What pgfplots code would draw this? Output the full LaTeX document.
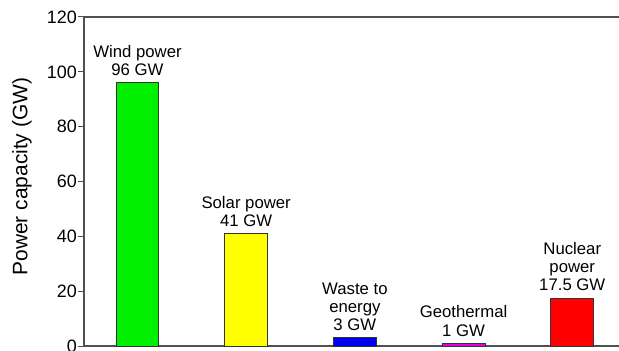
\documentclass[border=0pt]{standalone}
\usepackage{pgfplots}
\pgfplotsset{compat=1.18}
\usepackage{fontspec}
\setmainfont{Liberation Sans}

\definecolor{windc}{HTML}{00F000}
\definecolor{solarc}{HTML}{FFFF00}
\definecolor{wastec}{HTML}{0000F0}
\definecolor{geoc}{HTML}{E600E6}
\definecolor{nuclc}{HTML}{FF0000}
\definecolor{axisgray}{HTML}{505050}
\definecolor{edgegray}{HTML}{333333}

\begin{document}
\begin{tikzpicture}
\begin{axis}[
  width=535bp, height=329bp, scale only axis,
  xmin=-0.492, xmax=4.43,
  ymin=0, ymax=120,
  ytick={0,20,...,120},
  xtick=\empty,
  axis x line=box, axis y line=left,
  axis line style={-, axisgray, line width=1.3pt},
  ytick style={axisgray, line width=1pt},
  tick align=outside,
  major tick length=6bp,
  /pgf/number format/assume math mode=true,
  yticklabel style={font=\fontsize{18}{20}\selectfont, inner sep=1bp},
  ylabel={Power capacity (GW)},
  ylabel style={at={(axis description cs:-0.1346,0.515)}, anchor=north, inner sep=0pt,
    font=\fontsize{21}{24}\selectfont},
  clip=false,
  every axis plot/.append style={ybar, bar shift=0pt, bar width=0.395,
    draw=edgegray, line width=0.9pt},
  nodes near coords align={above},
  every node near coord/.append style={align=center, black,
    font=\fontsize{16.8}{18.4}\selectfont, inner sep=2bp, yshift=4.5bp},
]
\addplot[fill=windc, nodes near coords={Wind power\\\pgfmathprintnumber{\pgfplotspointmeta} GW}]
  coordinates {(0,96)};
\addplot[fill=solarc, nodes near coords={Solar power\\\pgfmathprintnumber{\pgfplotspointmeta} GW}]
  coordinates {(1,41)};
\addplot[fill=wastec, nodes near coords={Waste to\\energy\\\pgfmathprintnumber{\pgfplotspointmeta} GW}]
  coordinates {(2,3)};
\addplot[fill=geoc, nodes near coords={Geothermal\\\pgfmathprintnumber{\pgfplotspointmeta} GW}]
  coordinates {(3,1)};
\addplot[fill=nuclc, nodes near coords={Nuclear\\power\\\pgfmathprintnumber{\pgfplotspointmeta} GW}]
  coordinates {(4,17.5)};
\end{axis}
\pgfresetboundingbox
\path[use as bounding box] (-84bp,-5bp) rectangle (535bp,346bp);
\end{tikzpicture}
\end{document}
